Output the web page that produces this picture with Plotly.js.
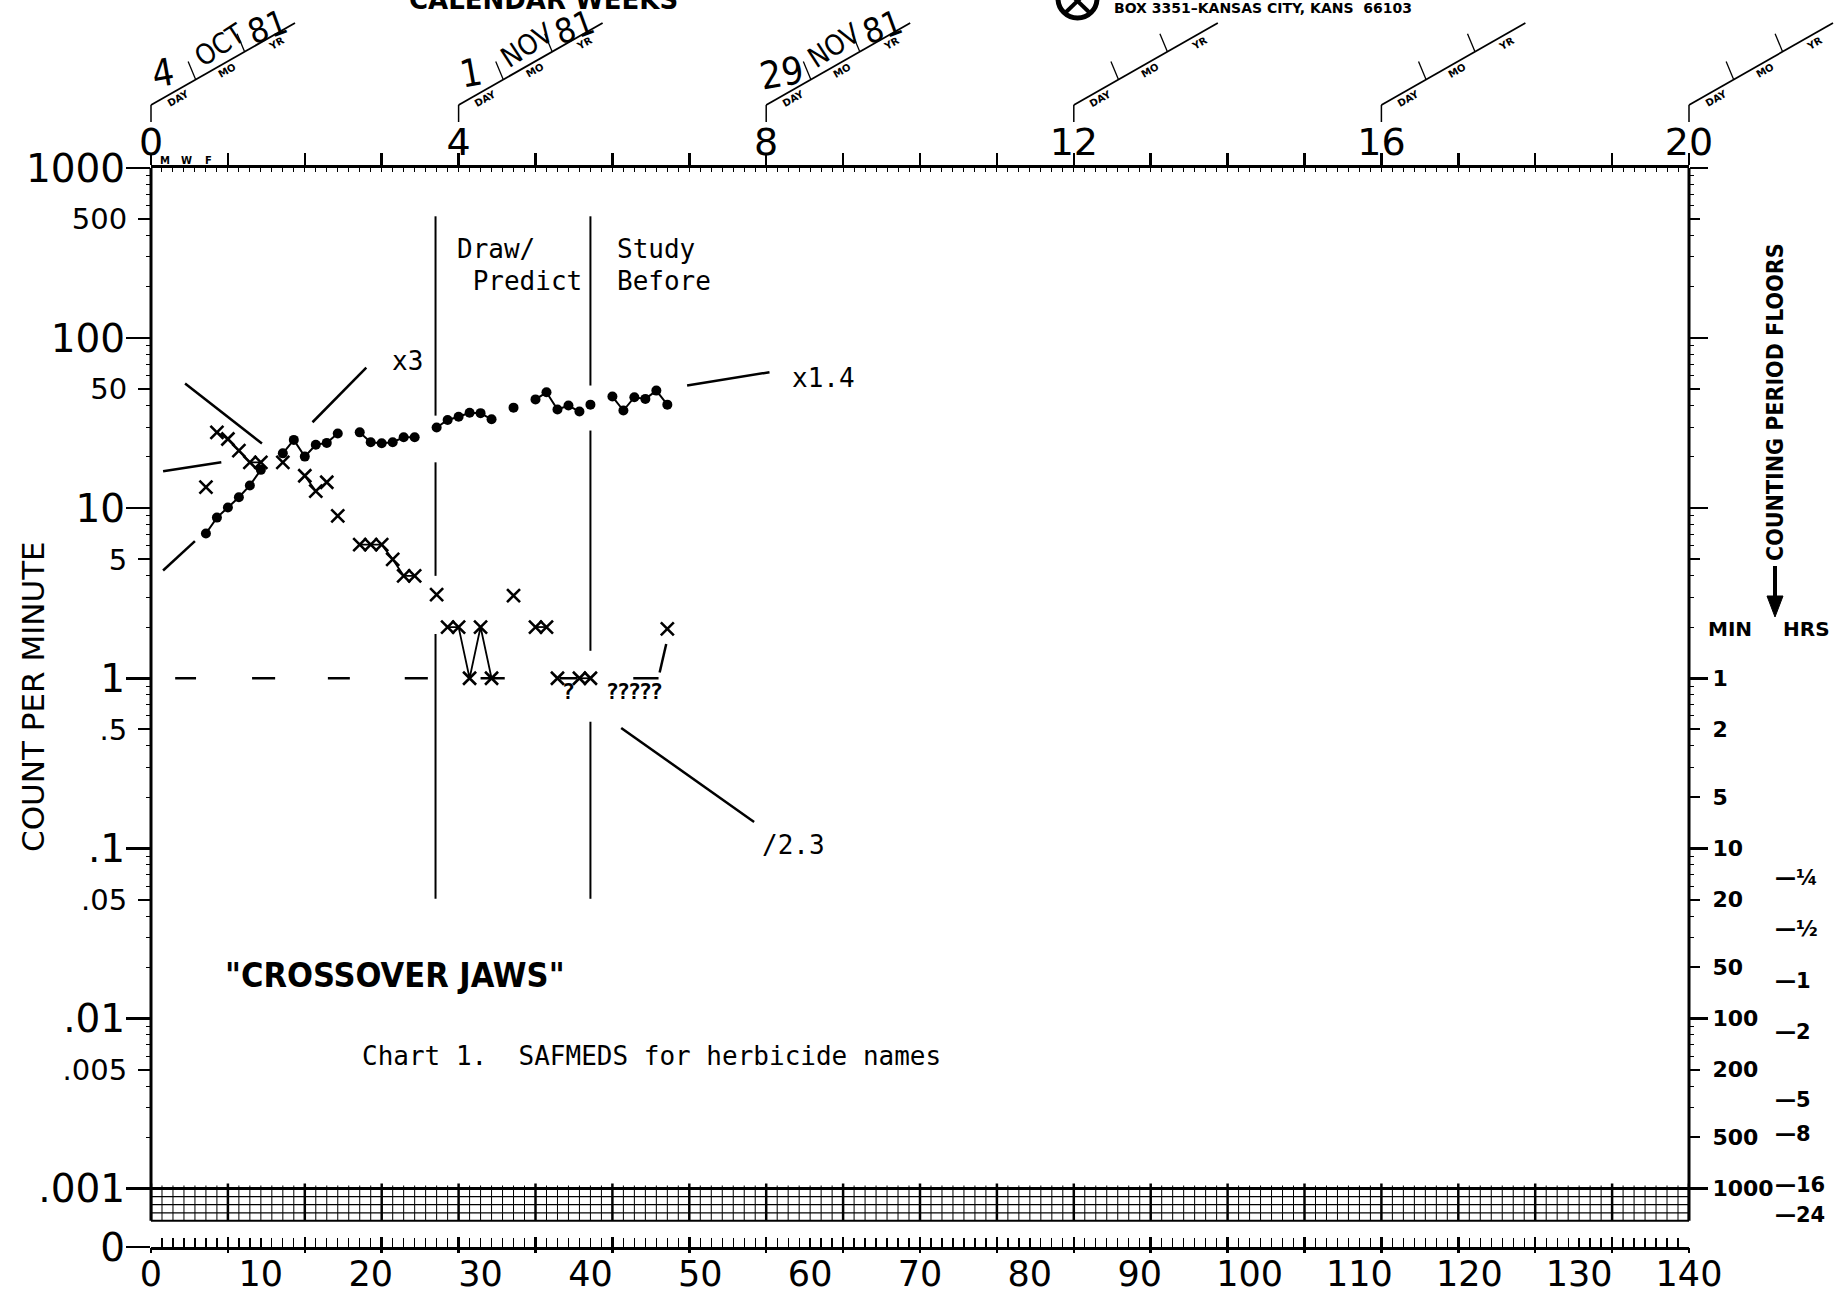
<!DOCTYPE html>
<html><head><meta charset="utf-8">
<script src="https://cdn.plot.ly/plotly-3.0.1.min.js"></script>
<style>html,body{margin:0;padding:0;background:#fff;}#chart{width:1848px;height:1297px;}</style>
</head><body><div id="chart"></div>
<script>
// ---------------- DATA ----------------
// corrects (dots) per day; null = break in the connecting line
const corrDays = [5,6,7,8,9,10,null,12,13,14,15,16,17,null,19,20,21,22,23,24,null,26,27,28,29,30,31,null,33,null,35,36,37,38,39,null,40,null,42,43,44,45,46,47];
const corrVals = [7.1,8.8,10.1,11.6,13.6,16.8,null,21.0,25.2,20.1,23.6,24.2,27.5,null,27.9,24.4,24.1,24.4,26.1,26.1,null,29.8,33.0,34.5,36.4,36.2,33.3,null,39.0,null,43.6,48.0,38.0,40.1,37.0,null,40.6,null,45.3,37.5,44.9,43.9,49.1,40.6];
// errors (x) per day
const errDays = [5,null,6,7,8,9,10,null,12,null,14,15,16,null,17,null,19,20,21,22,23,24,null,26,null,27,28,29,30,31,null,33,null,35,36,null,37,null,39,40,null,47];
const errVals = [13.3,null,27.9,25.5,21.8,18.6,18.6,null,18.6,null,15.5,12.6,14.2,null,9.0,null,6.1,6.1,6.1,5.0,4.0,4.0,null,3.1,null,2.0,2.0,1.0,2.0,1.0,null,3.06,null,2.0,2.0,null,1.0,null,1.0,1.0,null,1.95];
// days with zero errors (plotted as "?" below the record floor)
const zeroDays = [38,42,43,44,45,46];
const zeroMarkValue = 0.81;
// record floor (1-minute timing)
const floorValue = 1;
const floorStart = [2.2, 9.2, 16.1, 23.1, 30.0, 37.2, 43.9];
const floorEnd   = [4.1, 11.3, 18.1, 25.2, 32.2, 38.8, 46.2];
// celeration lines [day0,day1], [value0,value1]
const celDays = [[3.1,10.1],[1.1,6.4],[1.1,4.0],[14.7,19.6],[48.8,56.3],[42.8,54.9],[46.9,46.3]];
const celVals = [[54,24],[16.5,18.6],[4.3,6.4],[32,67],[52.6,63],[0.51,0.143],[1.59,1.08]];
const celLabels = ['x3','x1.4','/2.3'];
const celLabelDays = [21.75, 58.2, 55.4];
const celLabelVals = [73.8, 58.6, 0.105];
// phase change lines
const phaseDays = [25.9, 40.0];
const phaseSegs = [[[520,35],[18.6,4.0],[1.82,0.0505]], [[520,52.6],[28.6,1.45],[0.555,0.0505]]];
const phaseText = [['Draw/','\u00a0Predict'],['Study','Before']];
// axis labels
const xLabelDays = [0,10,20,30,40,50,60,70,80,90,100,110,120,130,140];
const weekDays = Array.from({length:21},(_,i)=>i*7);
const weekText = weekDays.map(d => (d%28===0) ? String(d/7) : '');
const decadeVals = [1000,100,10,1,0.1,0.01,0.001];
const decadeText = ['1000','100','10','1','.1','.01','.001'];
const fiveVals = [500,50,5,0.5,0.05,0.005];
const fiveText = ['500','50','5','.5','.05','.005'];
const floorDecText = ['','','','1','10','100','1000'];
const floorMidVals = [500,50,5,0.5,0.2,0.05,0.02,0.005,0.002];
const floorMidText = ['','','','2','5','20','50','200','500'];
const hrsMinutes = [15,30,60,120,300,480,960,1440];
const hrsText = ['—¼','—½','—1','—2','—5','—8','—16','—24'];
const stampDates = [['4','OCT','81'],['1','NOV','81'],['29','NOV','81']];

// ---------------- GEOMETRY ----------------
const W=1848, H=1297, L=151, R=1689, T=168, B=1247;
const yTopLog=3, yBottomLog=-3.344, bandBottomLog=-3.19;
const pw=R-L, ph=B-T;
const pxX = px => (px-L)/pw;
const pxY = py => (B-py)/ph;
const logPaper = lg => (lg-yBottomLog)/(yTopLog-yBottomLog);
const dayPx = d => L + d*pw/140;
const BLK='#000';
const SANS='DejaVu Sans', MONO='DejaVu Sans Mono', COND='DejaVu Sans Condensed, Liberation Sans Narrow, DejaVu Sans';

const shapes=[], annotations=[];
function pline(x0,y0,x1,y1,w){shapes.push({type:'line',xref:'paper',yref:'paper',x0:pxX(x0),y0:pxY(y0),x1:pxX(x1),y1:pxY(y1),line:{color:BLK,width:w}});}
function ann(text,px,py,o){o=o||{};annotations.push({text:text,xref:'paper',yref:'paper',x:pxX(px),y:pxY(py),xanchor:o.xa||'center',yanchor:o.ya||'middle',showarrow:false,textangle:o.angle||0,font:{family:o.family||SANS,size:o.size||14,color:BLK,weight:o.weight||'normal'}});}

// frame lines
shapes.push({type:'line',xref:'paper',yref:'paper',x0:0,x1:0,y0:1,y1:logPaper(bandBottomLog),line:{color:BLK,width:3}});
shapes.push({type:'line',xref:'paper',yref:'paper',x0:1,x1:1,y0:1,y1:logPaper(bandBottomLog),line:{color:BLK,width:3}});
// grid band under .001
const bandLogs=[-3,-3.048,-3.095,-3.143,bandBottomLog];
bandLogs.forEach((lg,i)=>shapes.push({type:'line',xref:'x',yref:'paper',x0:0,x1:140,y0:logPaper(lg),y1:logPaper(lg),line:{color:BLK,width:i===0?3:(i===bandLogs.length-1?2:1.2)}}));
for(let d=0;d<=140;d++){
  const sun=d%7===0;
  shapes.push({type:'line',xref:'x',yref:'paper',x0:d,x1:d,y0:logPaper(-3)+(sun?5:3)/ph,y1:logPaper(bandBottomLog),line:{color:BLK,width:sun?2.5:1}});
}
// date stamps
const sdx=144, sdy=82;
[0,4,8,12,16,20].forEach((w,i)=>{
  const X=dayPx(w*7);
  pline(X,122,X,105,1.5);
  pline(X,105,X+sdx,105-sdy,1.8);
  [0.31,0.65].forEach(t=>{const px=X+sdx*t,py=105-sdy*t;pline(px,py,px-7.5,py-18,1.3);});
  ann('DAY',X+27,99,{size:10,weight:'bold',angle:-29.7});
  ann('MO',X+76,71,{size:10,weight:'bold',angle:-29.7});
  ann('YR',X+125,43,{size:10,weight:'bold',angle:-29.7});
  if(i<stampDates.length){
    const sd=stampDates[i];
    const off=[[12,-32],[68,-60],[116,-78]];
    ann(sd[0],X+off[0][0]+(sd[0].length>1?4:0),105+off[0][1],{family:COND,size:38,angle:-10});
    ann(sd[1],X+off[1][0],105+off[1][1],{family:COND,size:28,angle:-33});
    ann(sd[2],X+off[2][0],105+off[2][1],{family:COND,size:34,angle:-20});
  }
});
// header
ann('CALENDAR WEEKS',543.5,17,{size:26,weight:'bold',ya:'bottom'});
shapes.push({type:'circle',xref:'paper',yref:'paper',x0:pxX(1058),x1:pxX(1097),y0:pxY(18),y1:pxY(-21),line:{color:BLK,width:5}});
pline(1064,-12,1091,14,4); pline(1091,-12,1064,14,4);
ann('BOX 3351–KANSAS CITY, KANS  66103',1112,8,{size:14,weight:'bold',xa:'left'});
['M','W','F'].forEach((s,i)=>ann(s,dayPx(1+2*i)+3,160,{size:10,weight:'bold'}));
// axis titles
ann('COUNT PER MINUTE',33,697,{size:31,angle:-90});
ann('COUNTING PERIOD FLOORS',1775,402,{family:COND,size:23,weight:'bold',angle:-90});
pline(1775,566,1775,600,4);
shapes.push({type:'path',xref:'paper',yref:'paper',path:`M ${pxX(1767)} ${pxY(596)} L ${pxX(1783)} ${pxY(596)} L ${pxX(1775)} ${pxY(617)} Z`,fillcolor:BLK,line:{color:BLK,width:1}});
ann('MIN',1730,629,{size:20,weight:'bold'});
ann('HRS',1806,629,{size:20,weight:'bold'});
hrsMinutes.forEach((m,i)=>annotations.push({text:hrsText[i],xref:'paper',yref:'y',x:pxX(1773),y:Math.log10(1/m),xanchor:'left',yanchor:'middle',showarrow:false,font:{family:SANS,size:21,color:BLK,weight:'bold'}}));
// phase labels
ann(phaseText[0][0],455,249,{family:MONO,size:26,xa:'left'});
ann(phaseText[0][1],455,281,{family:MONO,size:26,xa:'left'});
ann(phaseText[1][0],615,249,{family:MONO,size:26,xa:'left'});
ann(phaseText[1][1],615,281,{family:MONO,size:26,xa:'left'});
// celeration labels (data coords, log units for annotations)
celLabels.forEach((t,i)=>annotations.push({text:t,xref:'x',yref:'y',x:celLabelDays[i],y:Math.log10(celLabelVals[i]),xanchor:'left',yanchor:'middle',showarrow:false,font:{family:MONO,size:26,color:BLK}}));
ann('"CROSSOVER JAWS"',223,975,{family:COND,size:34,weight:'bold',xa:'left'});
ann('Chart 1.  SAFMEDS for herbicide names',360,1056,{family:MONO,size:26,xa:'left'});

// ---------------- TRACES ----------------
const traces=[];
phaseDays.forEach((d,i)=>{const xs=[],ys=[];phaseSegs[i].forEach(s=>{xs.push(d,d,null);ys.push(s[0],s[1],null);});
  traces.push({x:xs,y:ys,mode:'lines',line:{color:BLK,width:2},hoverinfo:'skip'});});
{const xs=[],ys=[];floorStart.forEach((s,i)=>{xs.push(s,floorEnd[i],null);ys.push(floorValue,floorValue,null);});
  traces.push({x:xs,y:ys,mode:'lines',line:{color:BLK,width:2.5},hoverinfo:'skip'});}
celDays.forEach((d,i)=>traces.push({x:d,y:celVals[i],mode:'lines',line:{color:BLK,width:2.5},hoverinfo:'skip'}));
traces.push({x:corrDays,y:corrVals,mode:'lines+markers',connectgaps:false,line:{color:BLK,width:2},marker:{symbol:'circle',size:10,color:BLK}});
traces.push({x:errDays,y:errVals,mode:'lines+markers',connectgaps:false,line:{color:BLK,width:1.8},marker:{symbol:'x-thin-open',size:13,color:BLK,line:{color:BLK,width:2.6}}});
traces.push({x:zeroDays,y:zeroDays.map(()=>zeroMarkValue),mode:'text',text:zeroDays.map(()=>'?'),textfont:{family:MONO,size:22,color:BLK,weight:'bold'}});
// invisible anchors so that every overlaying axis is drawn
[['x2','y'],['x3','y'],['x4','y'],['x','y2'],['x','y3'],['x','y4']].forEach(([xa,ya])=>traces.push({
  x:[xLabelDays[0]],y:[decadeVals[3]],xaxis:xa,yaxis:ya,mode:'markers',marker:{opacity:0,size:1},hoverinfo:'skip',showlegend:false}));

// ---------------- AXES ----------------
const minorLog=[];for(let e=-3;e<3;e++){[2,3,4,6,7,8,9].forEach(m=>minorLog.push(m*Math.pow(10,e)));}
const yRange=[yBottomLog,yTopLog];
const baseY={type:'log',range:yRange,showgrid:false,zeroline:false,showline:false,fixedrange:true,tickcolor:BLK,automargin:false};
const baseX={range:[0,140],showgrid:false,zeroline:false,fixedrange:true,tickcolor:BLK,automargin:false};
const layout={
  width:W,height:H,autosize:false,showlegend:false,
  paper_bgcolor:'#fff',plot_bgcolor:'#fff',
  margin:{l:L,r:W-R,t:T,b:H-B,pad:0},
  xaxis:Object.assign({},baseX,{anchor:'y',side:'bottom',showline:true,linewidth:3,linecolor:BLK,ticks:'inside',ticklen:9,tickwidth:1.3,
    tickmode:'array',tickvals:xLabelDays,ticktext:xLabelDays.map(String),ticklabelstandoff:-6,
    tickfont:{family:SANS,size:35,color:BLK},minor:{ticks:'inside',ticklen:9,tickwidth:1.3,tickcolor:BLK,tick0:0,dtick:1,showgrid:false}}),
  xaxis2:Object.assign({},baseX,{overlaying:'x',anchor:'y',side:'bottom',showline:false,ticks:'outside',ticklen:5,tickwidth:2.5,tickmode:'array',tickvals:weekDays,showticklabels:false}),
  xaxis3:Object.assign({},baseX,{overlaying:'x',anchor:'y',side:'bottom',showline:false,ticks:'inside',ticklen:10,tickwidth:2.5,tickmode:'array',tickvals:weekDays,showticklabels:false}),
  xaxis4:Object.assign({},baseX,{overlaying:'x',anchor:'y',side:'top',showline:true,linewidth:3,linecolor:BLK,ticks:'outside',ticklen:12,tickwidth:2.5,
    tickmode:'array',tickvals:weekDays,ticktext:weekText,ticklabelstandoff:-17,tickfont:{family:SANS,size:38,color:BLK},
    minor:{ticks:'inside',ticklen:4,tickwidth:1,tickcolor:BLK,tick0:0,dtick:1,showgrid:false}}),
  yaxis:Object.assign({},baseY,{anchor:'x',side:'left',ticks:'outside',ticklen:24,tickwidth:2.5,tickmode:'array',
    tickvals:decadeVals.concat([Math.pow(10,yBottomLog+0.0005)]),ticktext:decadeText.concat(['0']),ticklabelstandoff:-7,
    tickfont:{family:SANS,size:39,color:BLK},minor:{ticks:'outside',ticklen:4,tickwidth:1,tickcolor:BLK,tickmode:'array',tickvals:minorLog,showgrid:false}}),
  yaxis2:Object.assign({},baseY,{overlaying:'y',anchor:'x',side:'left',ticks:'outside',ticklen:12,tickwidth:2,tickmode:'array',
    tickvals:fiveVals,ticktext:fiveText,ticklabelstandoff:5,tickfont:{family:SANS,size:29,color:BLK}}),
  yaxis3:Object.assign({},baseY,{overlaying:'y',anchor:'x',side:'right',ticks:'outside',ticklen:18,tickwidth:2.5,tickmode:'array',
    tickvals:decadeVals,ticktext:floorDecText,tickfont:{family:SANS,size:22,color:BLK,weight:'bold'}}),
  yaxis4:Object.assign({},baseY,{overlaying:'y',anchor:'x',side:'right',ticks:'outside',ticklen:10,tickwidth:2,tickmode:'array',
    tickvals:floorMidVals,ticktext:floorMidText,ticklabelstandoff:8,tickfont:{family:SANS,size:22,color:BLK,weight:'bold'},
    minor:{ticks:'outside',ticklen:4,tickwidth:1,tickcolor:BLK,tickmode:'array',tickvals:minorLog,showgrid:false}}),
  shapes:shapes,annotations:annotations
};
Plotly.newPlot('chart',traces,layout,{displayModeBar:false,staticPlot:true});
</script></body></html>
